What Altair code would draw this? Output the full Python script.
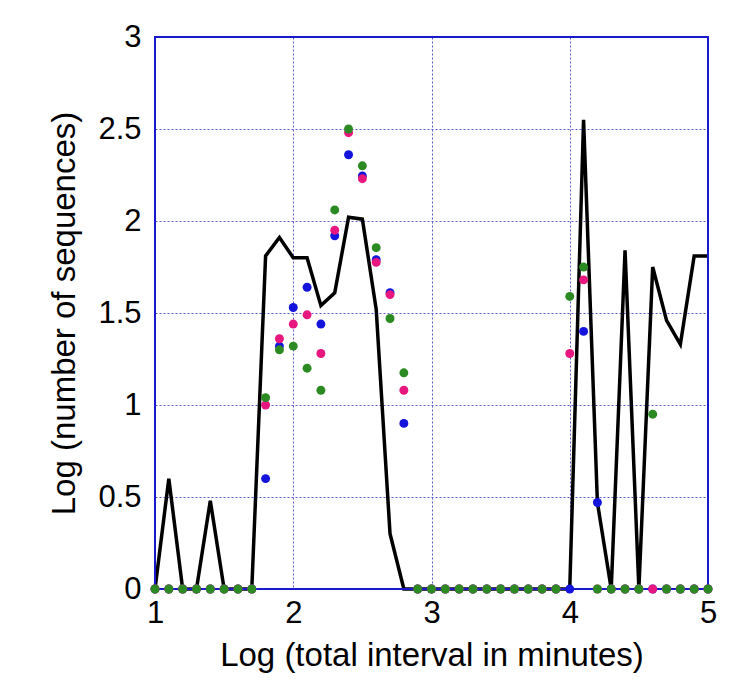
import altair as alt
import pandas as pd

x_vals = [round(1.0 + 0.1 * i, 1) for i in range(41)]

line_vals = [0, 0.60, 0, 0, 0.48, 0, 0, 0,
             1.81, 1.91, 1.80, 1.80, 1.54, 1.61, 2.02, 2.01, 1.52, 0.30, 0,
             0, 0, 0, 0, 0, 0, 0, 0, 0, 0, 0, 0,
             2.55, 0.47, 0, 1.84, 0, 1.75, 1.46, 1.33, 1.81, 1.81]

blue_vals = [0, 0, 0, 0, 0, 0, 0, 0,
             0.60, 1.32, 1.53, 1.64, 1.44, 1.92, 2.36, 2.245, 1.79, 1.61, 0.90,
             0, 0, 0, 0, 0, 0, 0, 0, 0, 0, 0, 0,
             1.40, 0.47, 0, 0, 0, 0, 0, 0, 0, 0]

pink_vals = [0, 0, 0, 0, 0, 0, 0, 0,
             1.00, 1.36, 1.44, 1.49, 1.28, 1.95, 2.48, 2.23, 1.775, 1.60, 1.08,
             0, 0, 0, 0, 0, 0, 0, 0, 0, 0, 0, 1.28,
             1.68, 0, 0, 0, 0, 0, 0, 0, 0, 0]

green_vals = [0, 0, 0, 0, 0, 0, 0, 0,
              1.04, 1.30, 1.32, 1.20, 1.08, 2.06, 2.50, 2.30, 1.855, 1.47, 1.175,
              0, 0, 0, 0, 0, 0, 0, 0, 0, 0, 0, 1.59,
              1.75, 0, 0, 0, 0, 0.95, 0, 0, 0, 0]

series_names = ["blue", "pink", "green"]
series_colors = ["#1414dc", "#e8177f", "#2c8a22"]

line_df = pd.DataFrame({"x": x_vals, "y": line_vals})
pts = []
for k, (name, vals) in enumerate(zip(series_names, [blue_vals, pink_vals, green_vals])):
    for xv, yv in zip(x_vals, vals):
        pts.append({"x": xv, "y": yv, "series": name, "ord": k})
pts_df = pd.DataFrame(pts)

FONT = "Liberation Sans"
GRID = "#5a5ad0"

xscale = alt.Scale(domain=[1, 5], nice=False, zero=False)
yscale = alt.Scale(domain=[0, 3], nice=False)

xaxis = alt.Axis(title="Log (total interval in minutes)", values=[1, 2, 3, 4, 5],
                 format="d", grid=True, ticks=False, domain=False, labelFlush=False,
                 labelFontSize=31, titleFontSize=33, labelPadding=9,
                 titlePadding=11, labelFont=FONT, titleFont=FONT,
                 labelColor="black", titleColor="black", titleFontWeight="normal",
                 gridColor=GRID, gridDash=[2, 2], gridWidth=1)
yaxis = alt.Axis(title="Log (number of sequences)",
                 values=[0, 0.5, 1, 1.5, 2, 2.5, 3],
                 grid=True, ticks=False, domain=False, labelFlush=False,
                 labelFontSize=31, titleFontSize=33, labelPadding=14,
                 titlePadding=16, labelFont=FONT, titleFont=FONT,
                 labelColor="black", titleColor="black", titleFontWeight="normal",
                 labelExpr="datum.value == 0 ? '0' : format(datum.value, '~g')",
                 gridColor=GRID, gridDash=[2, 2], gridWidth=1)

frame = alt.Chart(line_df).mark_rect(fill=None, stroke="#1a1acc", strokeWidth=1.5).encode(
    x=alt.value(0), x2=alt.value(553), y=alt.value(0), y2=alt.value(552)
)

line = alt.Chart(line_df).mark_line(color="black", strokeWidth=3.5, strokeJoin="miter", clip=False).encode(
    x=alt.X("x:Q", scale=xscale, axis=xaxis),
    y=alt.Y("y:Q", scale=yscale, axis=yaxis),
)

points = alt.Chart(pts_df).mark_circle(size=80, opacity=1).encode(
    x=alt.X("x:Q", scale=xscale),
    y=alt.Y("y:Q", scale=yscale),
    color=alt.Color("series:N", scale=alt.Scale(domain=series_names, range=series_colors), legend=None),
    order=alt.Order("ord:Q"),
)

chart = alt.layer(line, frame, points).properties(
    width=553, height=552,
    background="white",
    autosize=alt.AutoSizeParams(type="none"),
    padding={"left": 147, "top": 29, "right": 15, "bottom": 88},
).configure_view(stroke=None)

chart.save("out.html", embed_options={"renderer": "svg", "actions": False})
